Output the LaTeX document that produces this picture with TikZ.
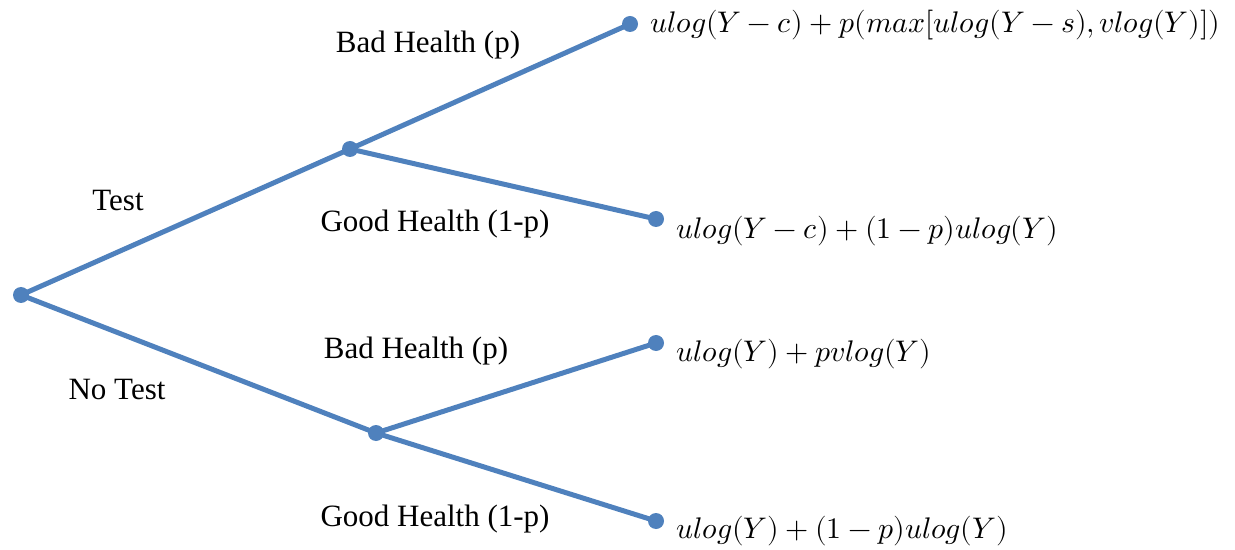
\documentclass[tikz,border=0pt]{standalone}
\usepackage{fontspec}
\setmainfont{Liberation Serif}
\usepackage{unicode-math}
\setmathfont{Latin Modern Math}
\tikzset{
  dotnode/.style={circle,fill=linecol,inner sep=0pt,minimum size=8pt},
  branch/.style={draw=linecol,line width=2.5pt},
  lbl/.style={font=\fontsize{15.5}{18}\selectfont,inner sep=0pt},
  payoff/.style={font=\fontsize{14.9}{18}\selectfont,inner sep=0pt,anchor=west}
}
\definecolor{linecol}{RGB}{79,129,189}
\begin{document}
\begin{tikzpicture}[x=0.5pt,y=-0.5pt]
\useasboundingbox (0,0) rectangle (1235,550);
\coordinate (r) at (21,295);
\coordinate (u) at (350,149);
\coordinate (d) at (376,433);
\coordinate (uu) at (630,24);
\coordinate (ud) at (656,219);
\coordinate (du) at (656,343);
\coordinate (dd) at (656,521);
\draw[branch] (r) -- (u);
\draw[branch] (r) -- (d);
\draw[branch] (u) -- (uu);
\draw[branch] (u) -- (ud);
\draw[branch] (d) -- (du);
\draw[branch] (d) -- (dd);
\foreach \n in {r,u,d,uu,ud,du,dd} \node[dotnode] (n\n) at (\n) {};
\node[lbl] (l1) at (428,45) {Bad Health (p)};
\node[lbl] (l2) at (118,201) {Test};
\node[lbl] (l3) at (435,224) {Good Health (1-p)};
\node[lbl] (l4) at (416,351) {Bad Health (p)};
\node[lbl] (l5) at (117,390) {No Test};
\node[lbl] (l6) at (435,519) {Good Health (1-p)};
\node[payoff] (p1) at (650,25) {$ulog(Y-c)+p(max[ulog(Y-s),vlog(Y)])$};
\node[payoff] (p2) at (676,231) {$ulog(Y-c)+(1-p)ulog(Y)$};
\node[payoff] (p3) at (676,354) {$ulog(Y)+pvlog(Y)$};
\node[payoff] (p4) at (676,531) {$ulog(Y)+(1-p)ulog(Y)$};
\end{tikzpicture}
\end{document}
